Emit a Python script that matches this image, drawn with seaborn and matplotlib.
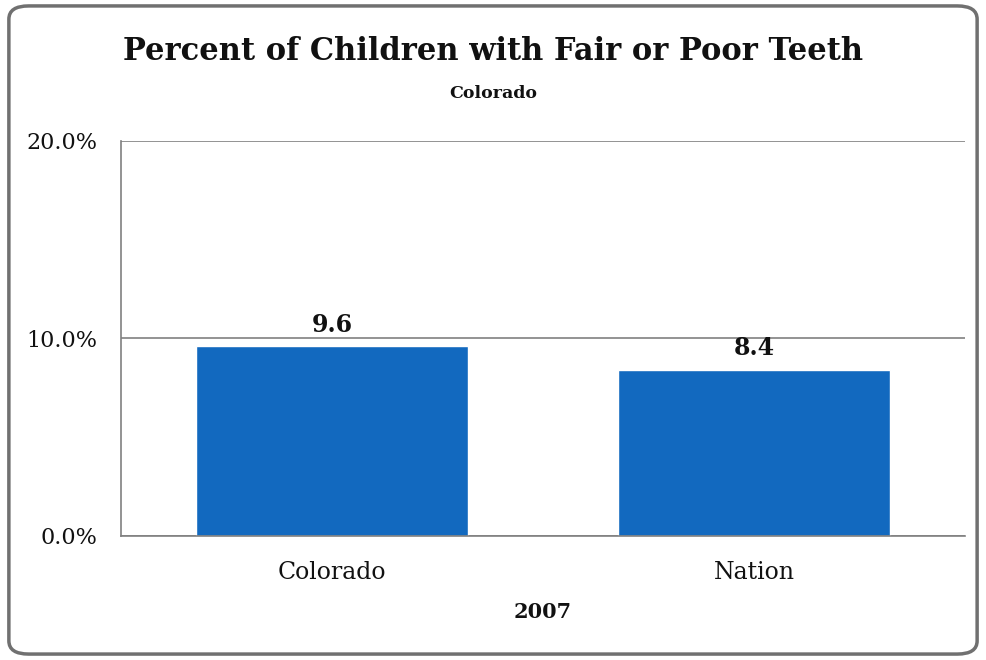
import matplotlib
matplotlib.use("Agg")
import matplotlib.pyplot as plt
import seaborn as sns
import pandas as pd
from matplotlib.patches import FancyBboxPatch

categories = ["Colorado", "Nation"]
values = [9.6, 8.4]
year_label = "2007"
yticks = [0, 10, 20]
ytick_labels = ["0.0%", "10.0%", "20.0%"]

sns.set_theme(style="white")
plt.rcParams["font.family"] = ["DejaVu Serif", "Liberation Serif"]

df = pd.DataFrame({"category": categories, "value": values})

fig = plt.figure(figsize=(9.86, 6.6), dpi=100)
ax = fig.add_axes([0.1227, 0.1879, 0.856, 0.5985])

sns.barplot(data=df, x="category", y="value", color="#1269BF", saturation=1,
            width=0.645, ax=ax)

ax.set_ylim(0, 20)
ax.set_yticks(yticks)
ax.set_yticklabels(ytick_labels, fontsize=16)
ax.yaxis.grid(True, color="#808080", linewidth=1.2)
ax.set_axisbelow(True)
for s in ["top", "right"]:
    ax.spines[s].set_visible(False)
for s in ["left", "bottom"]:
    ax.spines[s].set_color("#808080")
    ax.spines[s].set_linewidth(1.2)
ax.tick_params(axis="both", length=0, colors="#111111")
ax.tick_params(axis="y", pad=17)
ax.tick_params(axis="x", labelsize=17, pad=18)
ax.set_ylabel("")
ax.set_xlabel(year_label, fontsize=15, fontweight="bold", labelpad=13,
              color="#111111")

for container in ax.containers:
    ax.bar_label(container, labels=[f"{v:.1f}" for v in values], padding=7,
                 fontsize=17, fontweight="bold", color="#111111")

fig.text(0.5, 0.922, "Percent of Children with Fair or Poor Teeth", ha="center",
         va="center", fontsize=22, fontweight="bold", color="#111111")
fig.text(0.5, 0.859, "Colorado", ha="center", va="center", fontsize=12.5,
         fontweight="bold", color="#111111")

border = FancyBboxPatch((0.009, 0.009), 0.982, 0.982,
                        boxstyle="round,pad=0,rounding_size=0.02",
                        transform=fig.transFigure, fill=False,
                        edgecolor="#707070", linewidth=2.5)
fig.patches.append(border)

fig.savefig("out.png", dpi=100)
